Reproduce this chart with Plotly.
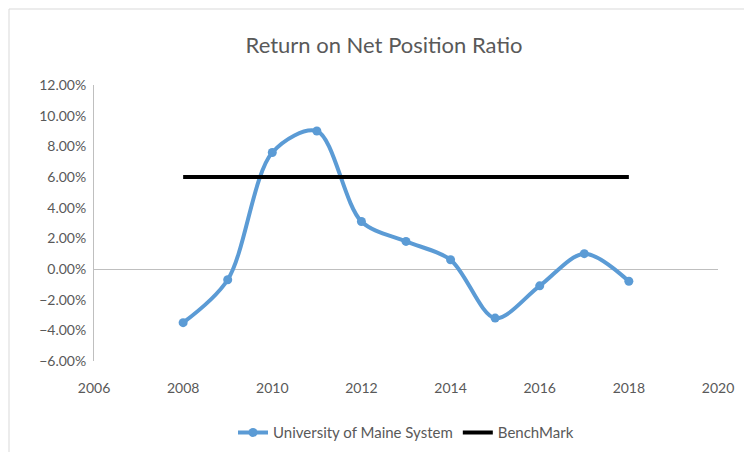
import plotly.graph_objects as go

years = [2008, 2009, 2010, 2011, 2012, 2013, 2014, 2015, 2016, 2017, 2018]
umaine = [-3.5, -0.7, 7.6, 9.0, 3.1, 1.8, 0.6, -3.2, -1.1, 1.0, -0.8]
benchmark = [6.0] * len(years)

fig = go.Figure()
fig.add_trace(go.Scatter(x=years, y=umaine, name="University of Maine System",
                         mode="lines+markers", line=dict(color="#5B9BD5", width=4, shape="spline", smoothing=0.9),
                         marker=dict(size=9, color="#5B9BD5")))
fig.add_trace(go.Scatter(x=years, y=benchmark, name="BenchMark", mode="lines",
                         line=dict(color="black", width=4)))

fig.update_layout(
    width=752, height=452, paper_bgcolor="white", plot_bgcolor="white",
    font=dict(family="Lato", size=14, color="#595959"),
    title=dict(text="Return on Net Position Ratio", x=0.5, xanchor="center",
               y=1 - 37/452, yanchor="middle", font=dict(size=22, color="#595959")),
    margin=dict(l=86, r=42, t=77, b=99, autoexpand=False),
    xaxis=dict(range=[2006, 2020], dtick=2, showgrid=False, zeroline=False, automargin=False,
               showline=False, ticks="outside", ticklen=14, tickcolor="white", tickfont=dict(size=14)),
    yaxis=dict(range=[-6, 12], dtick=2, ticksuffix="%", tickformat=".2f", showgrid=False,
               zeroline=True, zerolinecolor="#BFBFBF", zerolinewidth=1, automargin=False,
               showline=True, linecolor="#BFBFBF", ticks="outside", ticklen=4, tickcolor="white",
               tickfont=dict(size=14)),
    legend=dict(orientation="h", x=0.5, xanchor="center", y=-0.2, yanchor="top",
                font=dict(size=15)),
    shapes=[dict(type="rect", xref="paper", yref="paper", x0=-85/624, x1=1+41/624,
                 y0=-98/276, y1=1+76/276, line=dict(color="#D9D9D9", width=1))],
)

fig.write_html("out.html")
